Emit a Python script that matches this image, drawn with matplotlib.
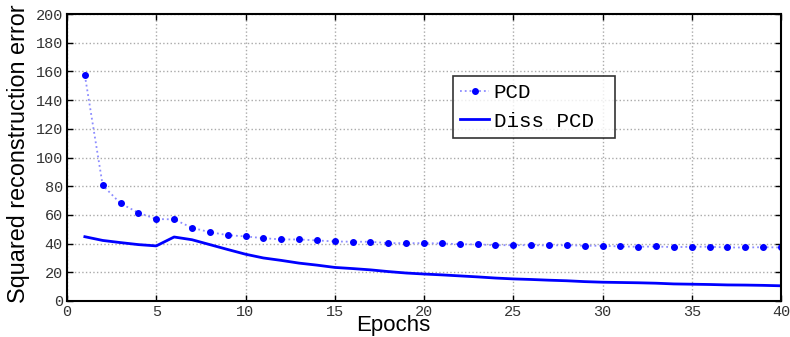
import numpy as np
import matplotlib
matplotlib.use('Agg')
import matplotlib.pyplot as plt

epochs = np.arange(1, 41)

pcd = [157.3, 80.6, 68.0, 61.5, 57.1, 56.9, 51.0, 48.0, 45.9, 45.0,
       43.8, 42.9, 42.9, 42.2, 41.5, 41.3, 41.3, 40.3, 40.3, 40.3,
       40.1, 39.6, 39.4, 38.9, 38.9, 38.9, 38.7, 38.9, 38.5, 38.5,
       38.0, 37.8, 38.0, 37.5, 37.8, 37.8, 37.3, 37.3, 37.5, 37.3]

diss_pcd = [44.8, 42.2, 40.7, 39.3, 38.4, 44.6, 42.7, 39.3, 35.9, 32.6,
            30.0, 28.3, 26.4, 25.0, 23.4, 22.6, 21.7, 20.5, 19.5, 18.8,
            18.2, 17.5, 16.8, 16.0, 15.4, 15.0, 14.5, 14.1, 13.5, 13.1,
            12.9, 12.7, 12.4, 11.9, 11.7, 11.5, 11.2, 11.1, 10.9, 10.6]

xticks = [0, 5, 10, 15, 20, 25, 30, 35, 40]
yticks = [0, 20, 40, 60, 80, 100, 120, 140, 160, 180, 200]

mono = 'Liberation Mono'
sans = 'Liberation Sans'

fig = plt.figure(figsize=(7.9, 3.37), dpi=100)
ax = fig.add_axes([67/790, 1 - 301/337, 714/790, 287/337])

ax.plot(epochs, pcd, linestyle=':', color=(0.55, 0.55, 1.0), linewidth=1.3,
        marker='o', markersize=4, markerfacecolor='#0000ff',
        markeredgecolor='#0000ff', label='PCD')
ax.plot(epochs, diss_pcd, '-', color='#0000ff', linewidth=2, label='Diss PCD')

ax.set_xlim(0, 40)
ax.set_ylim(0, 200)
ax.set_xticks(xticks)
ax.set_yticks(yticks)
ax.set_xticklabels([str(t) for t in xticks], fontfamily=mono, fontsize=11, color='#333333')
ax.set_yticklabels([str(t) for t in yticks], fontfamily=mono, fontsize=11, color='#333333')
ax.tick_params(direction='in', length=4, width=1, top=True, right=True, pad=3)

ax.grid(True, linestyle=':', color='#aaaaaa', linewidth=1)
for s in ax.spines.values():
    s.set_linewidth(1.5)

ax.set_xlabel('Epochs', fontfamily=sans, fontsize=16)
ax.xaxis.set_label_coords(0.457, -0.05)
ax.set_ylabel('Squared reconstruction error', fontfamily=sans, fontsize=16.8)
ax.yaxis.set_label_coords(-0.052, 0.515)

leg = ax.legend(loc='upper left',
                bbox_to_anchor=(453/790, 1 - 137/337, 162/790, 61/337),
                bbox_transform=fig.transFigure, mode='expand',
                prop={'family': mono, 'size': 15},
                fancybox=False, frameon=True, edgecolor='black', handlelength=1.4,
                borderaxespad=0, labelspacing=0.45, handletextpad=0.2,
                borderpad=0.35)
leg.get_frame().set_linewidth(1.2)

fig.savefig('out.png', dpi=100)
